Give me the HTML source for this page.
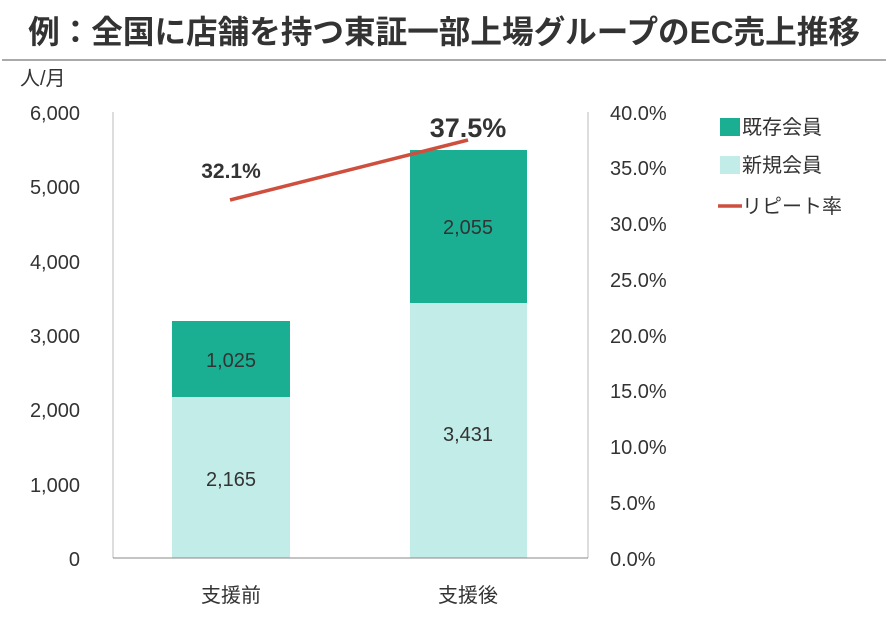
<!DOCTYPE html>
<html><head><meta charset="utf-8"><style>
body{margin:0;width:888px;height:616px;background:#fff;overflow:hidden;font-family:"Liberation Sans","Noto Sans CJK JP",sans-serif;}
</style></head><body>
<svg width="888" height="616" xmlns="http://www.w3.org/2000/svg" font-family="Liberation Sans, Noto Sans CJK JP, sans-serif">
<text x="444" y="43" text-anchor="middle" font-size="31.6" font-weight="bold" fill="#333">例：全国に店舗を持つ東証一部上場グループのEC売上推移</text>
<line x1="2" y1="60" x2="886" y2="60" stroke="#aaa" stroke-width="2"/>
<text x="20" y="85" font-size="20" fill="#333">人/月</text>
<g font-size="20" fill="#333" text-anchor="end">
<text x="80" y="120">6,000</text><text x="80" y="194">5,000</text><text x="80" y="269">4,000</text><text x="80" y="343">3,000</text><text x="80" y="417">2,000</text><text x="80" y="492">1,000</text><text x="80" y="566">0</text>
</g>
<g font-size="20" fill="#333">
<text x="610" y="120">40.0%</text><text x="610" y="175">35.0%</text><text x="610" y="231">30.0%</text><text x="610" y="287">25.0%</text><text x="610" y="343">20.0%</text><text x="610" y="398">15.0%</text><text x="610" y="454">10.0%</text><text x="610" y="510">5.0%</text><text x="610" y="566">0.0%</text>
</g>
<line x1="113" y1="112" x2="113" y2="558" stroke="#bbb"/>
<line x1="588" y1="112" x2="588" y2="558" stroke="#bbb"/>
<rect x="172" y="397" width="118" height="161" fill="#c1ece8"/>
<rect x="172" y="321" width="118" height="76" fill="#1aaf92"/>
<rect x="410" y="303" width="117" height="255" fill="#c1ece8"/>
<rect x="410" y="150" width="117" height="153" fill="#1aaf92"/>
<line x1="113" y1="558" x2="588" y2="558" stroke="#888"/>
<g font-size="20" fill="#333" text-anchor="middle">
<text x="231" y="486">2,165</text><text x="231" y="367">1,025</text>
<text x="468" y="441">3,431</text><text x="468" y="234">2,055</text>
<text x="231" y="602">支援前</text><text x="468" y="602">支援後</text>
</g>
<line x1="230" y1="200" x2="468" y2="140" stroke="#cf4f3f" stroke-width="3.5"/>
<text x="231" y="178" font-size="21" font-weight="bold" fill="#333" text-anchor="middle">32.1%</text>
<text x="468" y="137" font-size="27" font-weight="bold" fill="#333" text-anchor="middle">37.5%</text>
<rect x="720" y="118" width="20" height="18" fill="#1aaf92"/>
<text x="742" y="134" font-size="20" fill="#333">既存会員</text>
<rect x="720" y="156" width="20" height="18" fill="#c1ece8"/>
<text x="742" y="172" font-size="20" fill="#333">新規会員</text>
<line x1="718" y1="206" x2="742" y2="206" stroke="#cf4f3f" stroke-width="3.5"/>
<text x="742" y="213" font-size="20" fill="#333">リピート率</text>
</svg>
</body></html>
